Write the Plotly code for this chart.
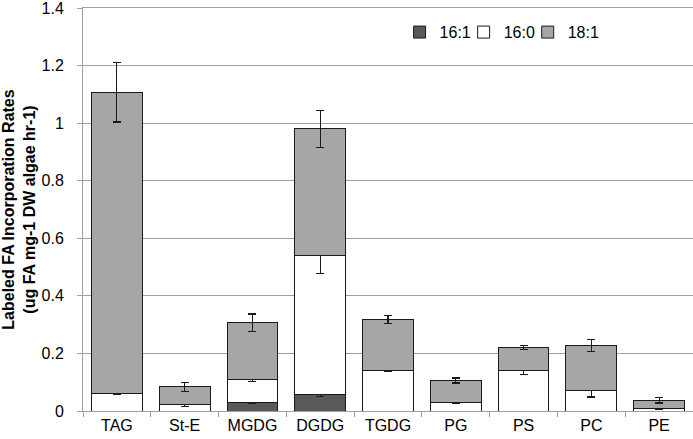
"""Stacked bar chart of labeled FA incorporation rates by lipid class."""

import plotly.graph_objects as go

lipids = ["TAG", "St-E", "MGDG", "DGDG", "TGDG", "PG", "PS", "PC", "PE"]

# segment heights (stacked bottom to top: 16:1, 16:0, 18:1)
fa_16_1 = [0.0, 0.0, 0.030, 0.059, 0.0, 0.0, 0.0, 0.0, 0.0]
fa_16_0 = [0.061, 0.021, 0.081, 0.481, 0.141, 0.029, 0.141, 0.070, 0.009]
fa_18_1 = [1.047, 0.063, 0.195, 0.440, 0.177, 0.077, 0.079, 0.157, 0.028]

# error bars (drawn at the top of each stacked segment)
err_16_1 = [None, None, 0.003, 0.008, 0.001, None, None, None, None]
err_16_0 = [0.005, 0.006, 0.008, 0.063, 0.005, 0.004, 0.013, 0.021, 0.004]
err_18_1 = [0.104, 0.015, 0.031, 0.064, 0.015, 0.009, 0.007, 0.021, 0.009]

y_ticks = [0, 0.2, 0.4, 0.6, 0.8, 1, 1.2, 1.4]
y_tick_text = ["0", "0.2", "0.4", "0.6", "0.8", "1", "1.2", "1.4"]

FONT = "Liberation Sans, Arial, sans-serif"
GRID = "#a0a0a0"


def add_series(fig, name, values, errors, color, legend):
    fig.add_trace(
        go.Bar(
            name=name,
            x=lipids,
            y=values,
            legend=legend,
            marker=dict(color=color, line=dict(color="#1a1a1a", width=1)),
            error_y=dict(
                type="data",
                array=errors,
                visible=True,
                color="#1a1a1a",
                thickness=1.2,
                width=4,
            ),
        )
    )


def legend_box(x):
    return dict(
        x=x,
        xanchor="left",
        y=0.94,
        yanchor="middle",
        font=dict(size=16),
        bgcolor="rgba(0,0,0,0)",
    )


fig = go.Figure()
add_series(fig, "16:1", fa_16_1, err_16_1, "#595959", "legend")
add_series(fig, "16:0", fa_16_0, err_16_0, "#ffffff", "legend2")
add_series(fig, "18:1", fa_18_1, err_18_1, "#a6a6a6", "legend3")

fig.update_layout(
    width=693,
    height=439,
    barmode="stack",
    bargap=0.25,
    paper_bgcolor="white",
    plot_bgcolor="white",
    font=dict(family=FONT, size=16, color="#000000"),
    margin=dict(l=83, r=0, t=6, b=28),
    showlegend=True,
    # one legend per series so the entries can sit close together like the original
    legend=legend_box(0.519),
    legend2=legend_box(0.624),
    legend3=legend_box(0.729),
)

# mirror=True repeats the x axis line along the top edge (y = 1.4),
# which stands in for the top gridline plotly leaves out
fig.update_xaxes(
    showline=True,
    mirror=True,
    linecolor=GRID,
    linewidth=1,
    ticks="outside",
    tickson="boundaries",
    ticklen=5,
    tickcolor=GRID,
    showgrid=False,
    range=[-0.5, 8.5],
)

fig.update_yaxes(
    range=[0, 1.4],
    tickvals=y_ticks,
    ticktext=y_tick_text,
    showline=True,
    linecolor=GRID,
    linewidth=1,
    ticks="outside",
    ticklen=5,
    tickcolor=GRID,
    ticklabelstandoff=10,
    ticklabeloverflow="allow",
    showgrid=True,
    gridcolor=GRID,
    gridwidth=1,
    zeroline=False,
    title=dict(
        text="<b>Labeled FA Incorporation Rates<br>(ug FA mg-1 DW algae hr-1)</b>",
        font=dict(size=16),
        standoff=5,
    ),
)

# the page body has a default 8px margin; drop it so the figure sits at 0,0
fig.write_html(
    "out.html",
    config={"displayModeBar": False},
    post_script="document.body.style.margin = '0';",
)
